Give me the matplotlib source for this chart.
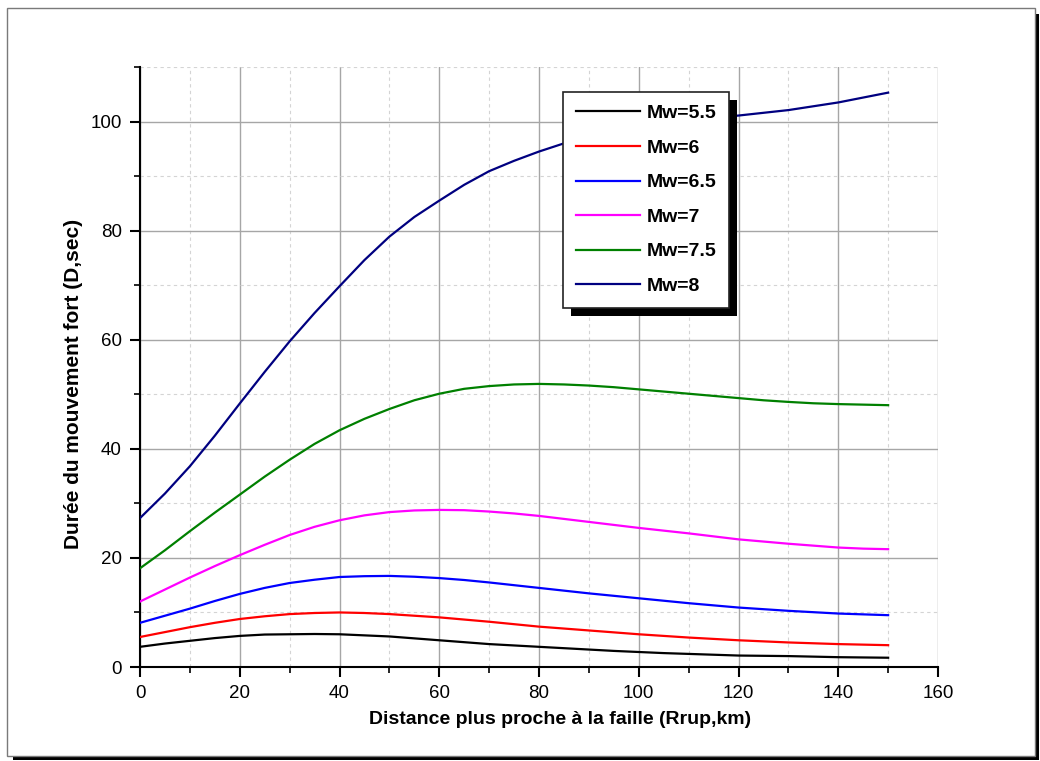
import matplotlib
matplotlib.use("Agg")
import matplotlib.pyplot as plt
from matplotlib.patches import Rectangle
from matplotlib.transforms import IdentityTransform
from matplotlib.ticker import MultipleLocator

plt.rcParams["font.family"] = ["Liberation Sans", "DejaVu Sans"]

# Distance to rupture (km)
rrup = [0, 5, 10, 15, 20, 25, 30, 35, 40, 45, 50, 55, 60, 65, 70, 75,
        80, 85, 90, 95, 100, 105, 110, 115, 120, 125, 130, 135, 140, 145, 150]

# Strong-motion duration (s) for each magnitude
d_mw55 = [3.7, 4.3, 4.8, 5.3, 5.7, 5.95, 6.0, 6.05, 6.0, 5.8, 5.6, 5.25, 4.9, 4.55, 4.2, 3.95,
          3.7, 3.45, 3.2, 2.95, 2.75, 2.55, 2.4, 2.25, 2.1, 2.05, 2.0, 1.9, 1.8, 1.75, 1.7]
d_mw60 = [5.5, 6.4, 7.3, 8.1, 8.8, 9.3, 9.7, 9.9, 10.0, 9.9, 9.7, 9.4, 9.1, 8.7, 8.3, 7.85,
          7.4, 7.05, 6.7, 6.35, 6.0, 5.7, 5.4, 5.15, 4.9, 4.7, 4.5, 4.35, 4.2, 4.1, 4.0]
d_mw65 = [8.1, 9.4, 10.7, 12.1, 13.4, 14.5, 15.4, 16.0, 16.5, 16.65, 16.7, 16.55, 16.3, 15.95, 15.5, 15.0,
          14.5, 14.0, 13.5, 13.05, 12.6, 12.15, 11.7, 11.3, 10.9, 10.6, 10.3, 10.05, 9.8, 9.65, 9.5]
d_mw70 = [12.0, 14.2, 16.4, 18.5, 20.5, 22.4, 24.2, 25.7, 26.9, 27.8, 28.4, 28.7, 28.8, 28.75, 28.5, 28.15,
          27.7, 27.15, 26.6, 26.05, 25.5, 25.0, 24.5, 23.95, 23.4, 23.0, 22.6, 22.25, 21.9, 21.7, 21.6]
d_mw75 = [18.1, 21.4, 24.9, 28.3, 31.6, 34.9, 38.0, 40.9, 43.4, 45.5, 47.3, 48.9, 50.1, 51.0, 51.5, 51.8,
          51.9, 51.8, 51.6, 51.3, 50.9, 50.5, 50.1, 49.7, 49.3, 48.9, 48.6, 48.35, 48.2, 48.1, 48.0]
d_mw80 = [27.3, 31.8, 36.8, 42.4, 48.3, 54.1, 59.7, 64.9, 69.8, 74.6, 78.9, 82.5, 85.5, 88.4, 90.9, 92.8,
          94.5, 96.0, 97.3, 98.3, 99.2, 99.8, 100.3, 100.7, 101.1, 101.6, 102.1, 102.8, 103.5, 104.4, 105.3]

labels = ["Mw=5.5", "Mw=6", "Mw=6.5", "Mw=7", "Mw=7.5", "Mw=8"]
colors = ["#000000", "#ff0000", "#0000ff", "#ff00ff", "#008000", "#000080"]
series = [d_mw55, d_mw60, d_mw65, d_mw70, d_mw75, d_mw80]

W, H = 1040, 761
fig = plt.figure(figsize=(W / 100, H / 100), dpi=100)


def px_rect(x0, y0, x1, y1):
    # pixel box (top-left origin) -> figure fraction rectangle
    return (x0 / W, 1 - y1 / H), (x1 - x0) / W, (y1 - y0) / H


# page frame with a dark drop shadow
xy, w, h = px_rect(13, 14, 1039, 760)
fig.patches.append(Rectangle(xy, w, h, transform=fig.transFigure,
                             facecolor="black", edgecolor="none", zorder=-2))
xy, w, h = px_rect(7, 8, 1035, 756)
fig.patches.append(Rectangle(xy, w, h, transform=fig.transFigure,
                             facecolor="white", edgecolor="#7a7a7a",
                             linewidth=1.0, zorder=-1))

ax = fig.add_axes([140 / W, 1 - 667 / H, 798 / W, 600 / H])
ax.patch.set_alpha(0)

for y, lab, col in zip(series, labels, colors):
    ax.plot(rrup, y, color=col, linewidth=1.6, label=lab, zorder=3)

ax.set_xlim(0, 160)
ax.set_ylim(0, 110)
ax.xaxis.set_major_locator(MultipleLocator(20))
ax.xaxis.set_minor_locator(MultipleLocator(10))
ax.yaxis.set_major_locator(MultipleLocator(20))
ax.yaxis.set_minor_locator(MultipleLocator(10))

ax.grid(which="major", color="#a6a6a6", linewidth=1.0, linestyle="-", zorder=1)
ax.grid(which="minor", color="#d4d4d4", linewidth=0.8, linestyle=(0, (3, 3)), zorder=1)
ax.set_axisbelow(True)

for side in ("top", "right"):
    ax.spines[side].set_visible(False)
for side in ("left", "bottom"):
    ax.spines[side].set_linewidth(1.5)

ax.tick_params(which="major", direction="out", length=7, width=1.5,
               labelsize=13.5, pad=6, colors="black")
ax.tick_params(which="minor", direction="out", length=4, width=1.2)

ax.set_xlabel("Distance plus proche à la faille (Rrup,km)", fontsize=14,
              fontweight="bold")
ax.set_ylabel("Durée du mouvement fort (D,sec)", fontsize=15,
              fontweight="bold")
ax.xaxis.set_label_coords((560 - 140) / 798, (667 - 711) / 600)
ax.yaxis.set_label_coords((83 - 140) / 798, (667 - 384) / 600)

leg = ax.legend(loc="upper left", bbox_to_anchor=((563 - 140) / 798, (667 - 92) / 600),
                borderaxespad=0, fancybox=False, frameon=True, framealpha=1,
                edgecolor="#222222", handlelength=3.3, handletextpad=0.35,
                borderpad=0.65, labelspacing=0.87,
                prop={"size": 14, "weight": "bold"})
leg.get_frame().set_linewidth(1.2)
leg.set_zorder(6)
for line in leg.get_lines():
    line.set_linewidth(1.6)

fig.canvas.draw()
bb = leg.get_window_extent(fig.canvas.get_renderer())
ax.add_patch(Rectangle((bb.x0 + 8, bb.y0 - 8), bb.width, bb.height,
                       transform=IdentityTransform(), facecolor="black",
                       edgecolor="none", zorder=5.5, clip_on=False))

fig.savefig("out.png", dpi=100)
